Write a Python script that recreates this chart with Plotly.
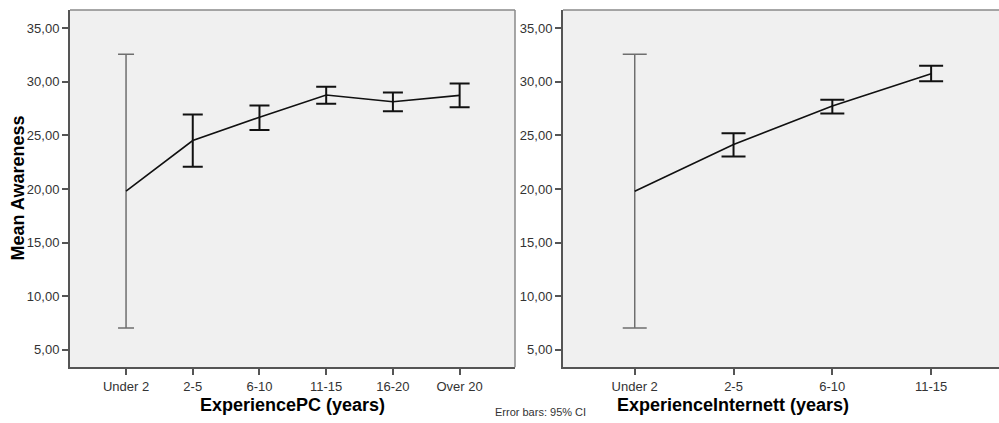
import plotly.graph_objects as go

# Mean awareness by experience group, with 95% confidence intervals
pc_groups = ["Under 2", "2-5", "6-10", "11-15", "16-20", "Over 20"]
pc_mean = [19.80, 24.53, 26.71, 28.77, 28.14, 28.74]
pc_low = [7.02, 22.07, 25.52, 27.95, 27.27, 27.64]
pc_high = [32.57, 26.96, 27.80, 29.54, 29.02, 29.86]

net_groups = ["Under 2", "2-5", "6-10", "11-15"]
net_mean = [19.80, 24.16, 27.74, 30.76]
net_low = [7.02, 23.04, 27.06, 30.07]
net_high = [32.57, 25.21, 28.33, 31.50]

y_ticks = [5, 10, 15, 20, 25, 30, 35]
y_tick_text = ["5,00", "10,00", "15,00", "20,00", "25,00", "30,00", "35,00"]

FONT = "Liberation Sans, Arial, sans-serif"
W, H = 999, 423

fig = go.Figure()


def add_panel(groups, mean, low, high, xref, yref, cap_black, cap_grey):
    up = [h - m for h, m in zip(high, mean)]
    down = [m - l for m, l in zip(mean, low)]
    # widest interval (first group) drawn in grey
    fig.add_trace(go.Scatter(
        x=groups[:1], y=mean[:1], mode="markers",
        marker=dict(size=1, color="rgba(0,0,0,0)"),
        error_y=dict(type="data", symmetric=False, array=up[:1], arrayminus=down[:1],
                     color="#6e6e6e", thickness=1.5, width=cap_grey),
        xaxis=xref, yaxis=yref, showlegend=False, hoverinfo="skip"))
    fig.add_trace(go.Scatter(
        x=groups[1:], y=mean[1:], mode="markers",
        marker=dict(size=1, color="rgba(0,0,0,0)"),
        error_y=dict(type="data", symmetric=False, array=up[1:], arrayminus=down[1:],
                     color="#111111", thickness=2, width=cap_black),
        xaxis=xref, yaxis=yref, showlegend=False, hoverinfo="skip"))
    fig.add_trace(go.Scatter(
        x=groups, y=mean, mode="lines",
        line=dict(color="#111111", width=1.6),
        xaxis=xref, yaxis=yref, showlegend=False))


add_panel(pc_groups, pc_mean, pc_low, pc_high, "x", "y", 10, 8)
add_panel(net_groups, net_mean, net_low, net_high, "x2", "y2", 12, 12)

y_dom = [(H - 367.3) / H, (H - 10) / H]
x1_dom = [70 / W, 515 / W]
x2_dom = [563 / W, 1.0]
y_range = [3.36, 36.71]

axis_common = dict(showgrid=False, zeroline=False, showline=True,
                   linecolor="#555555", linewidth=2, ticks="outside",
                   ticklen=6, tickwidth=1.5, tickcolor="#555555",
                   tickfont=dict(family=FONT, size=13, color="#333333"))

fig.update_layout(
    width=W, height=H,
    margin=dict(l=0, r=0, t=0, b=0),
    paper_bgcolor="white",
    plot_bgcolor="#f0f0f0",
    xaxis=dict(domain=x1_dom, type="category", range=[-0.84, 5.83],
               categoryorder="array", categoryarray=pc_groups, anchor="y",
               **axis_common),
    yaxis=dict(domain=y_dom, range=y_range, tickvals=y_ticks, ticktext=y_tick_text,
               anchor="x", **axis_common),
    xaxis2=dict(domain=x2_dom, type="category", range=[-0.726, 3.687],
                categoryorder="array", categoryarray=net_groups, anchor="y2",
                **axis_common),
    yaxis2=dict(domain=y_dom, range=y_range, tickvals=y_ticks, ticktext=y_tick_text,
                anchor="x2", **axis_common),
)

# upper and right frame lines
border = dict(color="#8a8a8a", width=1.5)
fig.add_shape(type="line", xref="x domain", yref="y domain", x0=0, x1=1, y0=1, y1=1, line=border)
fig.add_shape(type="line", xref="x domain", yref="y domain", x0=1, x1=1, y0=0, y1=1, line=border)
fig.add_shape(type="line", xref="x2 domain", yref="y2 domain", x0=0, x1=1, y0=1, y1=1, line=border)

title_font = dict(family=FONT, size=18, color="#000000")
fig.add_annotation(text="<b>ExperiencePC (years)</b>", xref="paper", yref="paper",
                   x=(x1_dom[0] + x1_dom[1]) / 2, y=(H - 405) / H,
                   showarrow=False, font=title_font, xanchor="center", yanchor="middle")
fig.add_annotation(text="<b>ExperienceInternett (years)</b>", xref="paper", yref="paper",
                   x=(733 / W), y=(H - 405) / H,
                   showarrow=False, font=title_font, xanchor="center", yanchor="middle")
fig.add_annotation(text="<b>Mean Awareness</b>", xref="paper", yref="paper",
                   x=17 / W, y=(H - 188.5) / H, textangle=-90,
                   showarrow=False, font=title_font, xanchor="center", yanchor="middle")
fig.add_annotation(text="Error bars: 95% CI", xref="paper", yref="paper",
                   x=540 / W, y=(H - 411.5) / H,
                   showarrow=False, font=dict(family=FONT, size=11, color="#333333"),
                   xanchor="center", yanchor="middle")

fig.write_html("out.html")
